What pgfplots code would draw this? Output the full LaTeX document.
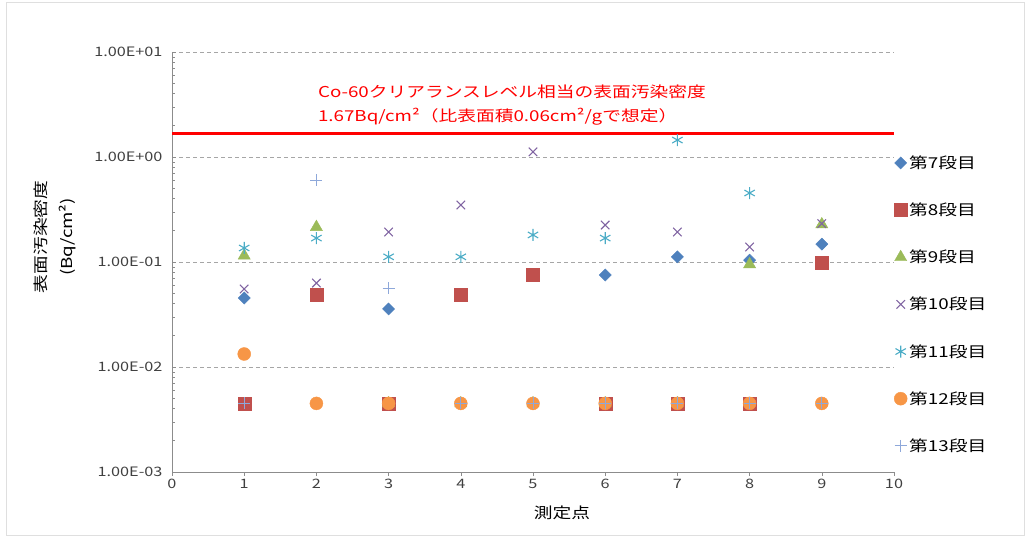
\documentclass[border=0pt]{standalone}
\usepackage{fontspec}
\setmainfont{Noto Sans CJK JP}[FakeStretch=1.25]
\usepackage{pgfplots}
\pgfplotsset{compat=1.18}
\definecolor{c7}{HTML}{4F81BD}
\definecolor{c8}{HTML}{C0504D}
\definecolor{c9}{HTML}{9BBB59}
\definecolor{c10}{HTML}{8064A2}
\definecolor{c11}{HTML}{4BACC6}
\definecolor{c12}{HTML}{F79646}
\definecolor{c13}{HTML}{8EA8DA}
\definecolor{axgray}{HTML}{8C8C8C}
\definecolor{txtgray}{HTML}{404040}
\begin{document}
\begin{tikzpicture}
\useasboundingbox (0,0) rectangle (1030bp,539bp);
\draw[gray!25, line width=1bp] (6bp,3bp) rectangle (1024bp,536bp);
\begin{axis}[
  at={(172bp,67bp)}, anchor=south west,
  scale only axis, width=722bp, height=420bp,
  xmin=0, xmax=10, ymin=1e-3, ymax=10, ymode=log,
  clip=false,
  axis x line*=bottom, axis y line*=left,
  axis line style={-, draw=axgray, line width=0.8bp},
  xtick={0,1,2,3,4,5,6,7,8,9,10},
  xticklabels={0,1,2,3,4,5,6,7,8,9,10},
  ytick={1e-3,1e-2,1e-1,1,10},
  yticklabels={1.00E-03,1.00E-02,1.00E-01,1.00E+00,1.00E+01},
  ymajorgrids,
  major grid style={dash pattern=on 4bp off 3bp, draw=gray!70, line width=0.8bp},
  tick style={draw=axgray, line width=0.6bp},
  major tick length=4bp, minor tick length=3bp,
  xtick style={yshift=-4bp},
  ticklabel style={font=\fontsize{13bp}{15bp}\selectfont, text=txtgray},
  xticklabel style={yshift=-4bp},
  yticklabel style={xshift=-6bp},
  legend style={at={(axis description cs:1,0.758)}, anchor=north west, draw=none, fill=none,
    inner sep=0pt, row sep=29bp, font=\fontsize{15bp}{18bp}\selectfont, text=black},
  legend cell align=left,
  legend image code/.code={\draw[mark repeat=2,mark phase=2,#1] plot coordinates {(0bp,0bp)(6bp,0bp)(12bp,0bp)};},
]
\addplot[only marks, mark=square*, mark size=4.3bp, mark options={rotate=45, fill=c7, draw=c7}] coordinates
 {(1,0.0454)(2,0.0045)(3,0.0357)(4,0.0045)(5,0.0045)(6,0.0752)(7,0.112)(8,0.104)(9,0.148)};
\addlegendentry{第7段目}
\addplot[only marks, mark=square*, mark size=6.5bp, mark options={fill=c8, draw=c8}] coordinates
 {(1,0.0045)(2,0.0485)(3,0.0045)(4,0.0485)(5,0.0752)(6,0.0045)(7,0.0045)(8,0.0045)(9,0.098)};
\addlegendentry{第8段目}
\addplot[only marks, mark=triangle*, mark size=7bp, mark options={fill=c9, draw=c9}] coordinates
 {(1,0.115)(2,0.215)(3,0.0045)(4,0.0045)(5,0.0045)(6,0.0045)(7,0.0045)(8,0.095)(9,0.228)};
\addlegendentry{第9段目}
\addplot[only marks, mark=x, mark size=6bp, mark options={draw=c10, line width=1.1bp}] coordinates
 {(1,0.0553)(2,0.063)(3,0.193)(4,0.349)(5,1.12)(6,0.225)(7,0.193)(8,0.139)(9,0.232)};
\addlegendentry{第10段目}
\addplot[only marks, mark=asterisk, mark size=6bp, mark options={draw=c11, line width=1.1bp}] coordinates
 {(1,0.136)(2,0.169)(3,0.112)(4,0.112)(5,0.181)(6,0.169)(7,1.45)(8,0.454)(9,0.0045)};
\addlegendentry{第11段目}
\addplot[only marks, mark=*, mark size=6.5bp, mark options={fill=c12, draw=c12}] coordinates
 {(1,0.0133)(2,0.0045)(3,0.0045)(4,0.0045)(5,0.0045)(6,0.0045)(7,0.0045)(8,0.0045)(9,0.0045)};
\addlegendentry{第12段目}
\addplot[only marks, mark=+, mark size=6bp, mark options={draw=c13, line width=0.9bp}] coordinates
 {(1,0.0045)(2,0.604)(3,0.0565)(4,0.0045)(5,0.0045)(6,0.0045)(7,0.0045)(8,0.0045)(9,0.0045)};
\addlegendentry{第13段目}
\addplot[red, line width=2.6bp, forget plot] coordinates {(0,1.67)(10,1.67)};
\node[anchor=west, text=red, inner sep=0pt, font=\fontsize{15bp}{18bp}\selectfont] at (axis cs:2.02,4.16) {Co-60クリアランスレベル相当の表面汚染密度};
\node[anchor=west, text=red, inner sep=0pt, font=\fontsize{15bp}{18bp}\selectfont] at (axis cs:2.02,2.40) {1.67Bq/cm²（比表面積0.06cm²/gで想定）};
\end{axis}
\node[rotate=90, align=center, font=\fontsize{15bp}{26bp}\selectfont, text=black] at (55bp,302bp) {表面汚染密度\\(Bq/cm²)};
\node[font=\fontsize{15bp}{18bp}\selectfont, text=black] at (562bp,26bp) {測定点};
\end{tikzpicture}
\end{document}
